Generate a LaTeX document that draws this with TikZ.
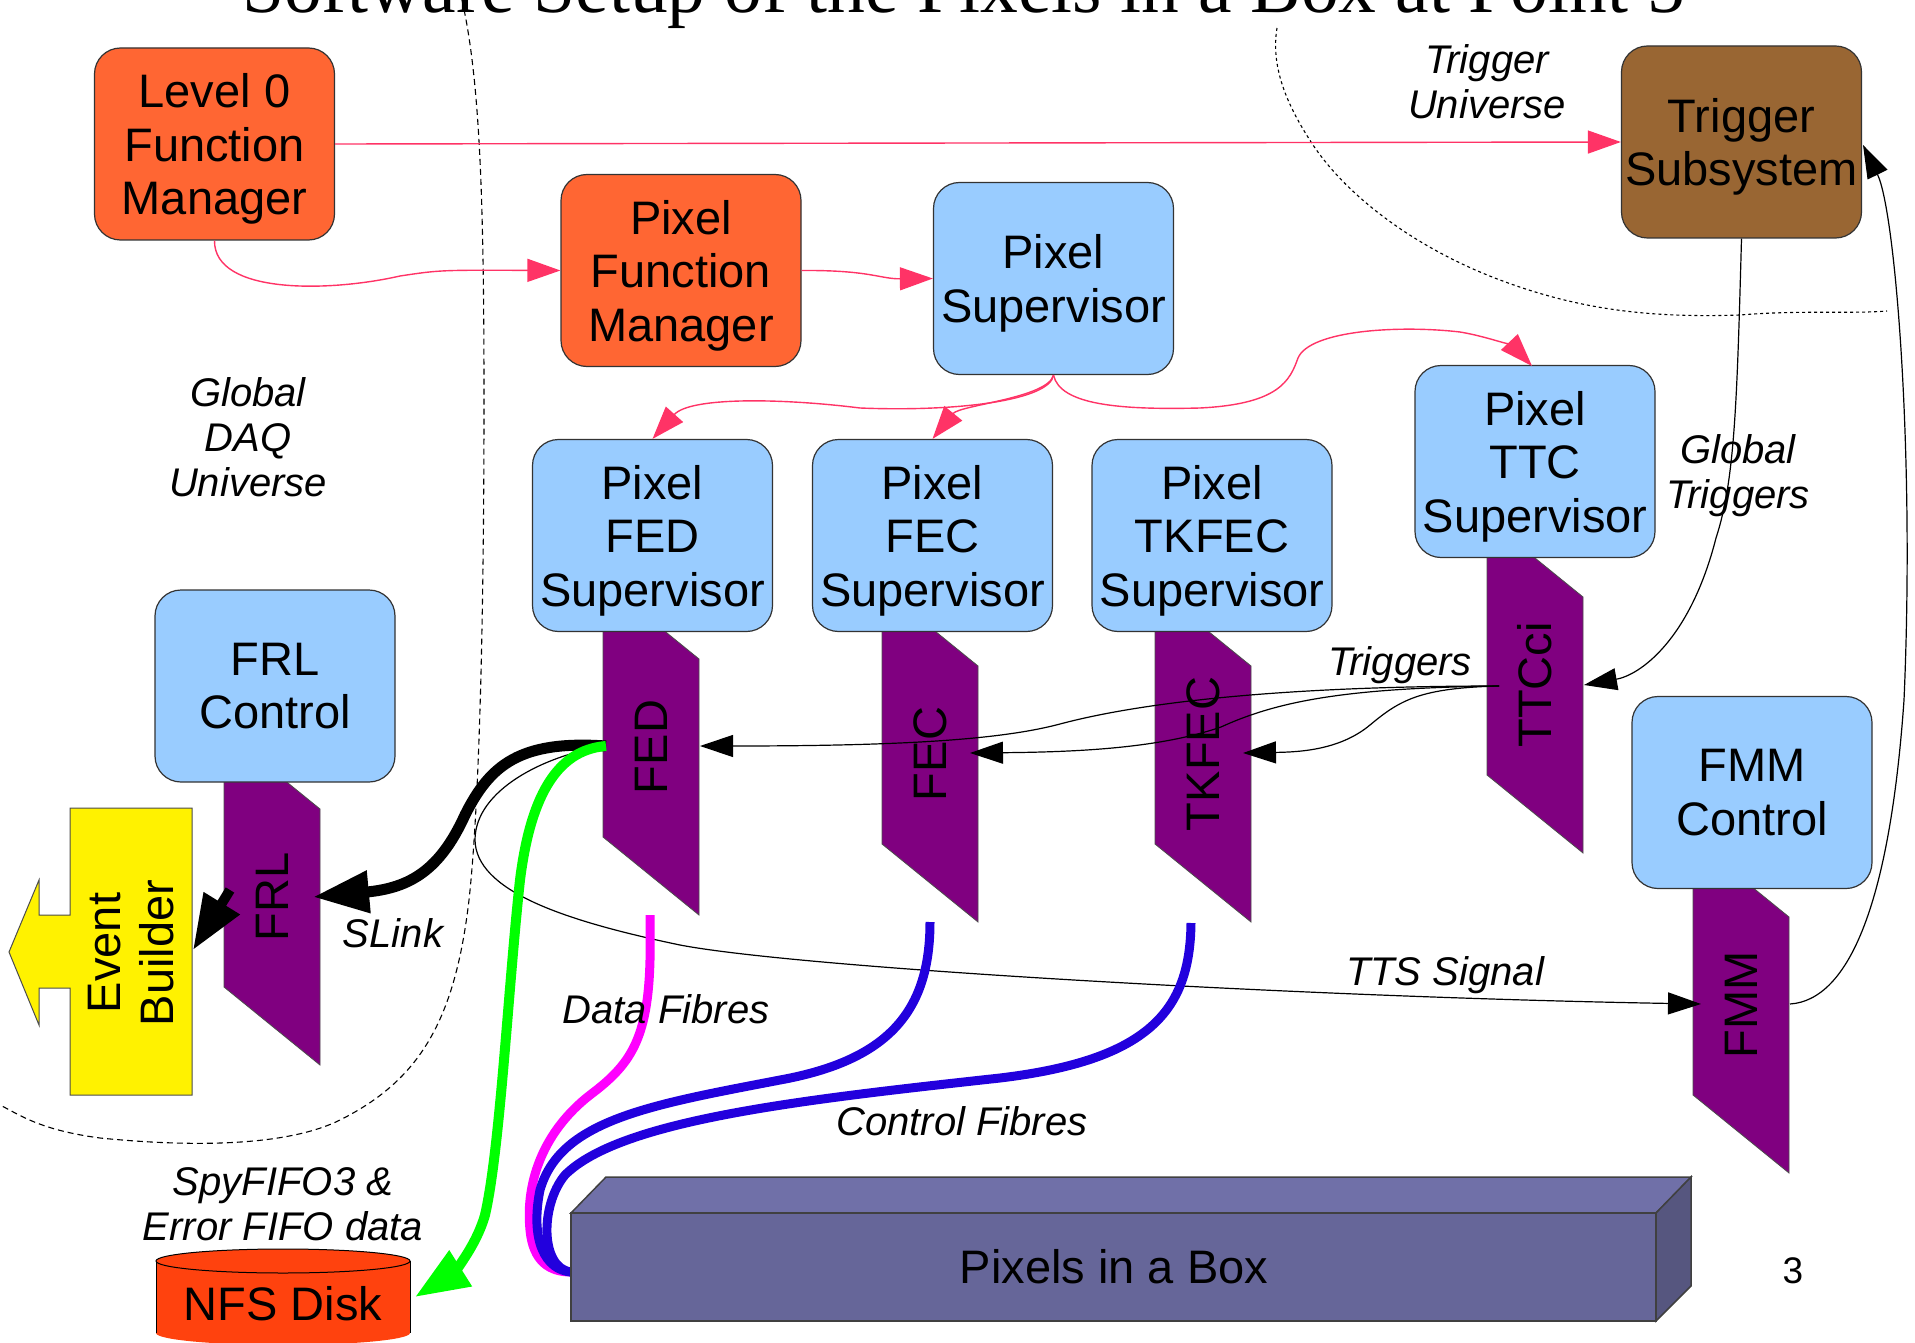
\documentclass[tikz,border=0pt]{standalone}
\usepackage{fontspec}
\setmainfont{Liberation Sans}
\newfontfamily\titlefont{Liberation Serif}
\usetikzlibrary{arrows.meta}
\definecolor{pinkc}{HTML}{FF3366}
\definecolor{orangec}{HTML}{FF6633}
\definecolor{bluec}{HTML}{99CCFF}
\definecolor{brownc}{HTML}{996633}
\definecolor{purpc}{HTML}{800080}
\definecolor{nfsc}{HTML}{FF420E}
\definecolor{fibreblue}{HTML}{2200DD}
\definecolor{fibremag}{HTML}{FF00FF}
\definecolor{pibfront}{HTML}{666699}
\definecolor{pibtop}{HTML}{7070A8}
\definecolor{pibside}{HTML}{56567F}
\newcommand{\pgram}[2]{\filldraw[fill=purpc, draw=black!70, line width=0.8pt] (#1,#2-334) -- ++(96,78) -- ++(0,256) -- ++(-96,-78) -- cycle;}
\begin{document}
\begin{tikzpicture}[x=1pt,y=-1pt,
  box/.style={rounded corners=26pt, draw=black!80, line width=1.2pt, minimum width=240pt, minimum height=192pt, align=center, inner sep=0pt, text depth=0pt, font={\fontsize{47}{53.5}\selectfont}},
  lbl/.style={align=center, inner sep=0pt, text depth=0pt, font={\fontsize{40}{45}\selectfont\itshape}},
  vtext/.style={rotate=90, inner sep=0pt, font={\fontsize{47}{53.5}\selectfont}},
  pinkarrow/.style={draw=pinkc, line width=1.4pt, -{Triangle[length=33pt,width=23pt]}},
  blackarrow/.style={draw=black, line width=1.2pt, -{Triangle[length=33pt,width=22pt]}},
  fibre/.style={line width=9pt},
  boundary/.style={draw=black, line width=1.1pt, dash pattern=on 6pt off 4pt},
  tboundary/.style={draw=black, line width=1.1pt, dash pattern=on 3pt off 3pt},
]
\useasboundingbox (0,0) rectangle (1915,1343);

% title (cut at top, as in the original slide)
\node[anchor=base west, inner sep=0pt, font={\fontsize{75.5}{80}\selectfont\titlefont}] (title) at (242,13) {Software Setup of the Pixels in a Box at Point 5};

% universe boundaries
\draw[boundary] (462,0) .. controls (480,80) and (484,200) .. (484,400) .. controls (484,600) and (480,800) .. (469,900) .. controls (455,1020) and (420,1080) .. (340,1120) .. controls (290,1145) and (200,1148) .. (100,1138) .. controls (40,1130) and (20,1115) .. (0,1105);
\draw[tboundary] (1277,28) .. controls (1270,70) and (1290,110) .. (1313,145) .. controls (1350,200) and (1420,250) .. (1500,280) .. controls (1580,310) and (1650,318) .. (1740,315) .. controls (1800,310) and (1850,314) .. (1887,311);

% hardware parallelograms
\pgram{603}{915}
\pgram{882}{922}
\pgram{1155}{922}
\pgram{1487}{853}
\pgram{224}{1065}
\pgram{1693}{1173}
\node[vtext] (fed) at (651,747) {FED};
\node[vtext] (fec) at (930,754) {FEC};
\node[vtext] (tkfec) at (1203,754) {TKFEC};
\node[vtext] (ttcci) at (1535,685) {TTCci};
\node[vtext] (frl) at (272,897) {FRL};
\node[vtext] (fmm) at (1741,1005) {FMM};

% software boxes
\node[box, fill=orangec] (l0fm) at (214.5,144) {Level 0\\Function\\Manager};
\node[box, fill=orangec] (pfm) at (681,270.5) {Pixel\\Function\\Manager};
\node[box, fill=bluec] (ps) at (1053.5,278.5) {Pixel\\Supervisor};
\node[box, fill=brownc] (trig) at (1741.5,142) {Trigger\\Subsystem};
\node[box, fill=bluec] (fedsup) at (652.5,535.5) {Pixel\\FED\\Supervisor};
\node[box, fill=bluec] (fecsup) at (932.5,535.5) {Pixel\\FEC\\Supervisor};
\node[box, fill=bluec] (tkfecsup) at (1212,535.5) {Pixel\\TKFEC\\Supervisor};
\node[box, fill=bluec] (ttcsup) at (1535,461.5) {Pixel\\TTC\\Supervisor};
\node[box, fill=bluec] (frlc) at (275,686) {FRL\\Control};
\node[box, fill=bluec] (fmmc) at (1752,792.5) {FMM\\Control};

% event builder
\filldraw[fill=yellow, draw=black!70, line width=1pt] (70,808) -- (192,808) -- (192,1095) -- (70,1095) -- (70,988) -- (39,988) -- (39,1025) -- (9,952) -- (39,880) -- (39,915) -- (70,915) -- cycle;
\node[vtext, align=center] (eb) at (131,953) {Event\\Builder};

% NFS disk
\fill[nfsc] (156,1261) rectangle (410,1333);
\fill[nfsc] (283,1333) ellipse[x radius=127, y radius=12];
\draw[line width=1pt] (156,1261) -- (156,1333);
\draw[line width=1pt] (410,1261) -- (410,1333);
\filldraw[fill=nfsc, line width=1pt] (283,1261) ellipse[x radius=127, y radius=12];
\node[inner sep=0pt, font={\fontsize{47}{53.5}\selectfont}] (nfs) at (283,1304) {NFS Disk};

% connection points
\coordinate (fedout) at (606,746);
\coordinate (fedin) at (700,746);
\coordinate (fecin) at (970,753);
\coordinate (tkfecin) at (1243,753);
\coordinate (ttcout) at (1499,686);
\coordinate (ttcin) at (1584,685);
\coordinate (ttctop) at (1532,366);
\coordinate (fmmin) at (1701,1004);
\coordinate (fmmout) at (1790,1004);
\coordinate (trigin) at (1863,145);
\coordinate (frlin) at (313,897);
\coordinate (frlout) at (230,890);
\coordinate (ebin) at (193,950);
\coordinate (nfsin) at (415,1297);
\coordinate (fedfib) at (650,915);
\coordinate (fecfib) at (930,922);
\coordinate (tkfecfib) at (1191,923);
\coordinate (pibin) at (571,1272);

% run control (pink)
\draw[pinkarrow] (l0fm.east) -- (trig.west);
\draw[pinkarrow] (l0fm.south) .. controls (214,295) and (330,292) .. (400,276) .. controls (440,270) .. (pfm.west);
\draw[pinkarrow] (pfm.east) .. controls (870,270) and (880,279) .. (ps.west);
\draw[pinkarrow] (ps.south) .. controls (1050,400) and (960,412) .. (860,408) .. controls (780,398) and (690,397) .. (fedsup.north);
\draw[pinkarrow] (ps.south) .. controls (1048,398) and (960,405) .. (fecsup.north);
\draw[pinkarrow] (ps.south) .. controls (1060,405) and (1120,410) .. (1200,408) .. controls (1280,404) and (1290,380) .. (1298,358) .. controls (1310,330) and (1400,325) .. (1460,332) .. controls (1490,337) and (1515,348) .. (ttctop);

% triggers
\draw[blackarrow] (ttcout) .. controls (1300,686) and (1150,700) .. (1060,724) .. controls (1000,740) and (900,746) .. (fedin);
\draw[blackarrow] (ttcout) .. controls (1350,688) and (1280,700) .. (1221,727) .. controls (1160,748) and (1080,752) .. (fecin);
\draw[blackarrow] (ttcout) .. controls (1420,688) and (1400,700) .. (1370,725) .. controls (1340,750) and (1300,752) .. (tkfecin);
\draw[blackarrow] (trig.south) .. controls (1737,400) and (1735,480) .. (1716,538) .. controls (1690,640) and (1640,675) .. (ttcin);
\draw[blackarrow] (fmmout) .. controls (1850,1000) and (1890,900) .. (1904,700) .. controls (1915,450) and (1895,210) .. (trigin);

% TTS signal
\draw[blackarrow] (fedout) .. controls (545,755) and (475,790) .. (475,840) .. controls (476,890) and (560,920) .. (680,945) .. controls (800,968) and (1300,997) .. (fmmin);

% fibres
\draw[fibre, draw=fibremag] (fedfib) -- (650,960) .. controls (648,1040) and (630,1065) .. (590,1095) .. controls (545,1130) and (525,1180) .. (530,1230) .. controls (533,1262) and (550,1272) .. (pibin);
\draw[fibre, draw=fibreblue] (fecfib) .. controls (930,1010) and (890,1060) .. (780,1080) .. controls (650,1105) and (560,1120) .. (540,1190) .. controls (530,1240) and (545,1270) .. (pibin);
\draw[fibre, draw=fibreblue] (tkfecfib) .. controls (1190,1010) and (1150,1060) .. (1000,1078) .. controls (800,1100) and (620,1120) .. (565,1175) .. controls (540,1205) and (540,1268) .. (pibin);

% SLink, event builder and spy data
\draw[line width=11pt, -{Triangle[length=56pt,width=40pt]}] (fedout) .. controls (520,740) and (490,765) .. (465,815) .. controls (440,870) and (410,888) .. (frlin);
\draw[line width=10pt, -{Triangle[length=55pt,width=40pt]}] (frlout) -- (ebin);
\draw[draw=green, line width=10pt, -{Triangle[length=54pt,width=40pt]}] (fedout) .. controls (555,750) and (530,800) .. (520,880) .. controls (508,990) and (500,1150) .. (485,1215) .. controls (475,1250) and (450,1275) .. (nfsin);

% pixels in a box
\filldraw[fill=pibtop, draw=black!75, line width=1.5pt] (571,1213) -- (606,1177) -- (1691,1177) -- (1656,1213) -- cycle;
\filldraw[fill=pibside, draw=black!75, line width=1.5pt] (1656,1213) -- (1691,1177) -- (1691,1286) -- (1656,1321) -- cycle;
\filldraw[fill=pibfront, draw=black!75, line width=1.5pt] (571,1213) rectangle (1656,1321);
\node[inner sep=0pt, font={\fontsize{47}{53.5}\selectfont}] (pib) at (1114,1267) {Pixels in a Box};

% labels
\node[lbl] (lglob) at (248,437) {Global\\DAQ\\Universe};
\node[lbl] (ltrigu) at (1487,82) {Trigger\\Universe};
\node[lbl] (lgtrig) at (1738,472) {Global\\Triggers};
\node[lbl] (ltrigs) at (1400,661) {Triggers};
\node[lbl] (lslink) at (393,933) {SLink};
\node[lbl] (ldata) at (666,1009) {Data Fibres};
\node[lbl] (lctrl) at (962,1121) {Control Fibres};
\node[lbl] (ltts) at (1445,971) {TTS Signal};
\node[lbl] (lspy) at (283,1204) {SpyFIFO3 \&\\Error FIFO data};
\node[inner sep=0pt, font={\fontsize{37}{40}\selectfont}] (pnum) at (1793,1271) {3};
\end{tikzpicture}
\end{document}
